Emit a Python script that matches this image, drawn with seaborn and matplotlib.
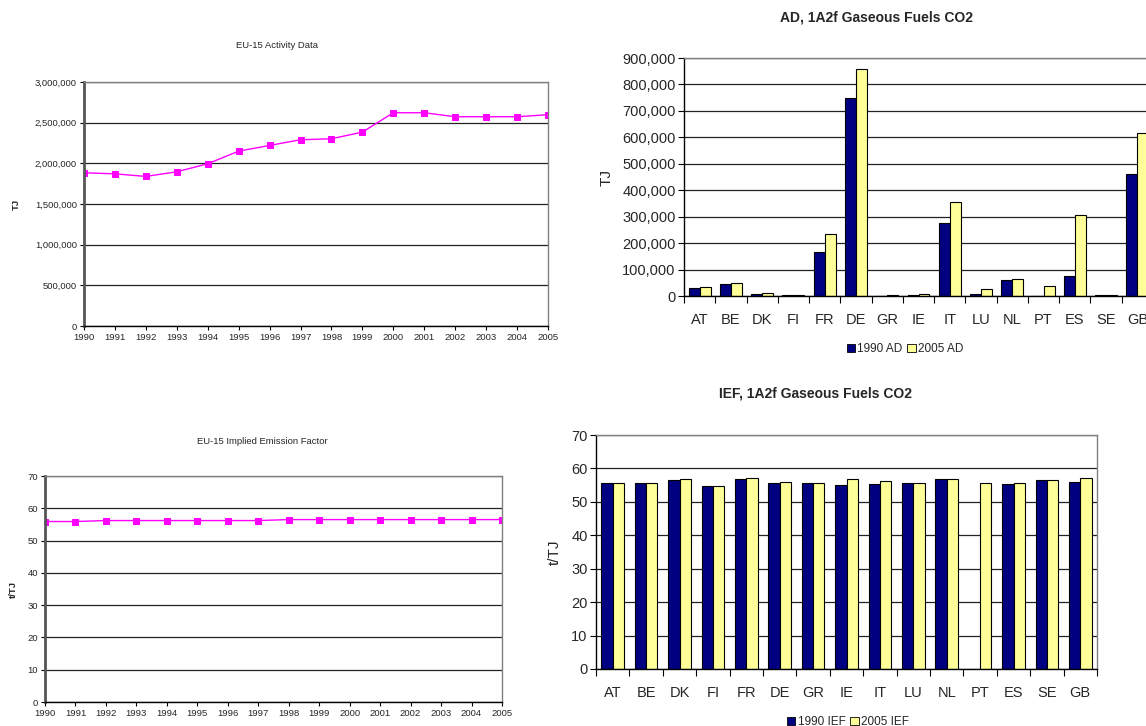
import numpy as np
import pandas as pd
import seaborn as sns
import matplotlib.pyplot as plt
from matplotlib.ticker import FuncFormatter, FixedLocator
from matplotlib.patches import Patch

# --- data ---
years = [str(y) for y in range(1990, 2006)]
eu15_ad = [1884000, 1871000, 1839000, 1896000, 1995000, 2150000, 2220000, 2290000,
           2302000, 2384000, 2622000, 2622000, 2573000, 2573000, 2573000, 2598000]
eu15_ief = [55.9, 55.9, 56.2, 56.2, 56.2, 56.2, 56.2, 56.2,
            56.5, 56.5, 56.5, 56.5, 56.5, 56.5, 56.5, 56.5]

countries = ['AT', 'BE', 'DK', 'FI', 'FR', 'DE', 'GR', 'IE', 'IT', 'LU', 'NL', 'PT', 'ES', 'SE', 'GB']
ad_1990 = [30000, 47000, 7000, 3000, 166000, 747000, 0, 3000, 277000, 8000, 59000, 0, 77000, 2500, 462000]
ad_2005 = [33000, 50000, 11000, 3000, 236000, 858000, 2000, 6000, 354000, 27000, 63000, 37000, 308000, 2500, 615000]
ief_1990 = [55.5, 55.7, 56.4, 54.8, 56.9, 55.7, 55.7, 55.0, 55.3, 55.5, 56.8, np.nan, 55.3, 56.6, 56.0]
ief_2005 = [55.5, 55.7, 56.8, 54.8, 57.1, 56.0, 55.7, 56.8, 56.3, 55.7, 56.8, 55.7, 55.7, 56.6, 57.1]

NAVY = '#000080'
PALE = '#FFFF99'
MAGENTA = '#FF00FF'
GRID = '#222222'
FRAME = '#808080'

sns.set_theme(style='white')
plt.rcParams['font.family'] = ['Liberation Sans', 'DejaVu Sans']

fig = plt.figure(figsize=(11.46, 7.26), dpi=100)
W, H = 1146.0, 726.0


def px_axes(left, top, right, bottom):
    return fig.add_axes([left / W, 1 - bottom / H, (right - left) / W, (bottom - top) / H])


def frame(ax, thick_left=False):
    for s in ['top', 'right', 'bottom', 'left']:
        ax.spines[s].set_color(FRAME)
        ax.spines[s].set_linewidth(1.0)
    ax.spines['bottom'].set_color('black')
    ax.spines['left'].set_color('#555555' if thick_left else 'black')
    ax.spines['left'].set_linewidth(2.0 if thick_left else 1.0)


comma = FuncFormatter(lambda v, p: f'{int(v):,}')


def line_panel(ax, values, ymax, step, fmt, ylabel, fs):
    df = pd.DataFrame({'year': years, 'value': values})
    sns.lineplot(data=df, x='year', y='value', ax=ax, color=MAGENTA, marker='s',
                 markersize=4.5, markeredgecolor=MAGENTA, linewidth=1.0, sort=False)
    ax.set_xlim(0, len(years) - 1)
    ax.set_ylim(0, ymax)
    ax.set_yticks(np.arange(0, ymax + step / 2, step))
    ax.yaxis.grid(True, color=GRID, linewidth=0.9)
    ax.set_axisbelow(True)
    if fmt is not None:
        ax.yaxis.set_major_formatter(fmt)
    ax.tick_params(axis='both', labelsize=fs, length=3, width=0.8, color='black',
                   direction='out', pad=2, bottom=True, left=True)
    ax.set_xlabel('')
    ax.set_ylabel(ylabel, fontsize=fs, fontweight='bold')
    frame(ax, thick_left=True)


def bar_panel(ax, v1, v2, ymax, step, fmt, ylabel, fs, width):
    df = pd.DataFrame({
        'country': countries * 2,
        'value': list(v1) + list(v2),
        'series': ['1990'] * len(countries) + ['2005'] * len(countries),
    })
    sns.barplot(data=df, x='country', y='value', hue='series', ax=ax,
                palette=[NAVY, PALE], width=width, edgecolor='black', linewidth=0.8,
                saturation=1, legend=False)
    ax.set_xlim(-0.5, len(countries) - 0.5)
    ax.set_ylim(0, ymax)
    ax.set_yticks(np.arange(0, ymax + step / 2, step))
    ax.yaxis.grid(True, color=GRID, linewidth=0.9)
    ax.set_axisbelow(True)
    if fmt is not None:
        ax.yaxis.set_major_formatter(fmt)
    ax.xaxis.set_minor_locator(FixedLocator(np.arange(-0.5, len(countries), 1.0)))
    ax.tick_params(axis='x', which='major', length=0, labelsize=fs, pad=12)
    ax.tick_params(axis='x', which='minor', length=5, width=0.8, color='black', bottom=True)
    ax.tick_params(axis='y', labelsize=fs, length=4, width=0.8, color='black', left=True, pad=2)
    ax.set_xlabel('')
    ax.set_ylabel(ylabel, fontsize=fs + 0.5)
    frame(ax)


# top left: EU-15 activity data
ax1 = px_axes(84, 82, 548, 326)
line_panel(ax1, eu15_ad, 3000000, 500000, comma, 'TJ', 6.8)
ax1.yaxis.set_label_coords(-0.135, 0.5)
fig.text(277 / W, 1 - 45 / H, 'EU-15 Activity Data', ha='center', va='center', fontsize=6.8)

# bottom left: EU-15 implied emission factor
ax3 = px_axes(45, 476, 502, 702)
line_panel(ax3, eu15_ief, 70, 10, None, 't/TJ', 6.8)
ax3.yaxis.set_label_coords(-0.06, 0.5)
fig.text(262 / W, 1 - 441 / H, 'EU-15 Implied Emission Factor', ha='center', va='center', fontsize=6.8)

# top right: AD by country (cut at the right edge like the reference)
ax2 = px_axes(684, 58, 1153, 296)
bar_panel(ax2, ad_1990, ad_2005, 900000, 100000, comma, 'TJ', 10.5, 0.7)
ax2.yaxis.set_label_coords(-0.15, 0.5)
fig.text(876 / W, 1 - 17 / H, 'AD, 1A2f Gaseous Fuels CO2', ha='center', va='center',
         fontsize=10, fontweight='bold')

# bottom right: IEF by country
ax4 = px_axes(596, 435, 1097, 669)
bar_panel(ax4, ief_1990, ief_2005, 70, 10, None, 't/TJ', 10.5, 0.68)
ax4.yaxis.set_label_coords(-0.068, 0.5)
fig.text(815 / W, 1 - 393 / H, 'IEF, 1A2f Gaseous Fuels CO2', ha='center', va='center',
         fontsize=10, fontweight='bold')

# legends below the bar panels
for names, cx, cy in [(['1990 AD', '2005 AD'], 905, 349), (['1990 IEF', '2005 IEF'], 848, 722)]:
    handles = [Patch(facecolor=NAVY, edgecolor='black', linewidth=0.6, label=names[0]),
               Patch(facecolor=PALE, edgecolor='black', linewidth=0.6, label=names[1])]
    fig.legend(handles=handles, loc='center', bbox_to_anchor=(cx / W, 1 - cy / H),
               ncol=2, frameon=False, fontsize=8.5, handlelength=0.7, handleheight=0.7,
               handletextpad=0.2, columnspacing=0.4, borderpad=0)

fig.savefig('out.png', dpi=100, facecolor='white')
